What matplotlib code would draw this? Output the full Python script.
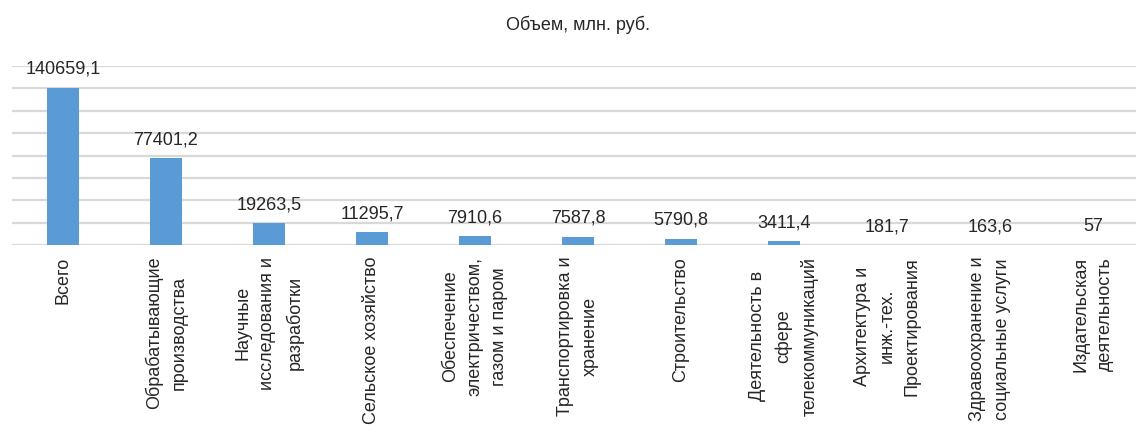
import matplotlib
matplotlib.use("Agg")
import matplotlib.pyplot as plt

# data
categories = [
    "Всего",
    "Обрабатывающие\nпроизводства",
    "Научные\nисследования и\nразработки",
    "Сельское хозяйство",
    "Обеспечение\nэлектричеством,\nгазом и паром",
    "Транспортировка и\nхранение",
    "Строительство",
    "Деятельность в\nсфере\nтелекоммуникаций",
    "Архитектура и\nинж.-тех.\nПроектирования",
    "Здравоохранение и\nсоциальные услуги",
    "Издательская\nдеятельность",
]
values = [140659.1, 77401.2, 19263.5, 11295.7, 7910.6, 7587.8, 5790.8, 3411.4, 181.7, 163.6, 57]
value_labels = ["140659,1", "77401,2", "19263,5", "11295,7", "7910,6", "7587,8",
                "5790,8", "3411,4", "181,7", "163,6", "57"]
title = "Объем, млн. руб."

plt.rcParams['font.family'] = ['Liberation Sans', 'DejaVu Sans']

fig = plt.figure(figsize=(11.36, 4.32), dpi=100)
ax = fig.add_axes([11.5 / 1136, 187 / 432, 1133 / 1136, 179 / 432])

x = range(len(categories))
ax.bar(x, values, width=0.32, color="#5B9BD5", zorder=3)

# value labels above the bars
for i, (v, lab) in enumerate(zip(values, value_labels)):
    ax.annotate(lab, (i, v), xytext=(0, 7), textcoords="offset points",
                ha="center", va="bottom", fontsize=13, color="#262626", zorder=4)

ax.set_xlim(-0.5, len(categories) - 0.5)
ax.set_ylim(0, 160000)
ax.set_yticks(range(0, 160001, 20000))
ax.yaxis.grid(True, color="#d9d9d9", linewidth=1.6, zorder=0)
ax.tick_params(axis="y", left=False, labelleft=False)
ax.tick_params(axis="x", bottom=False, pad=5)
ax.set_xticks(list(x))
ax.set_xticklabels(categories, rotation=90, fontsize=13, color="#262626",
                   ha="center", va="top", multialignment="center", linespacing=1.6)
for s in ax.spines.values():
    s.set_visible(False)

fig.text(578 / 1136, 1 - 25 / 432, title, ha="center", va="center", fontsize=13,
         color="#262626")

fig.savefig("out.png", dpi=100)
